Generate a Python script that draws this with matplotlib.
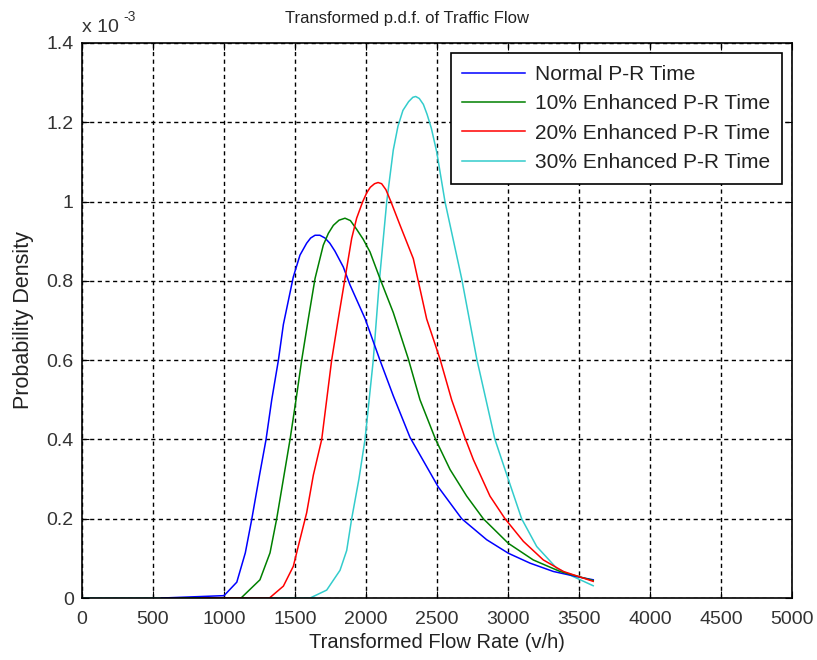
import numpy as np
import matplotlib
matplotlib.use('Agg')
import matplotlib.pyplot as plt
from matplotlib.ticker import FuncFormatter

plt.rcParams['font.family'] = ['Liberation Sans', 'DejaVu Sans']

# flow rate (v/h) and density (x 1e-3)
x_normal = [560, 1000, 1090, 1150, 1195, 1250, 1296, 1336, 1383, 1418, 1453, 1488, 1535,
            1582, 1610, 1641, 1675, 1711, 1745, 1781, 1840, 1887, 1993, 2098, 2192, 2310,
            2509, 2674, 2850, 3002, 3155, 3319, 3484, 3600]
y_normal = [0, 0.006, 0.04, 0.114, 0.198, 0.31, 0.40, 0.50, 0.60, 0.69, 0.75, 0.81, 0.865,
            0.895, 0.908, 0.915, 0.915, 0.908, 0.895, 0.875, 0.835, 0.79, 0.705, 0.60, 0.51,
            0.405, 0.28, 0.20, 0.147, 0.113, 0.088, 0.067, 0.054, 0.046]

x_10 = [690, 1120, 1253, 1324, 1371, 1418, 1465, 1507, 1547, 1594, 1641, 1699, 1735, 1770,
        1810, 1852, 1890, 1934, 1980, 2028, 2098, 2192, 2298, 2380, 2490, 2592, 2709, 2826,
        3002, 3178, 3366, 3600]
y_10 = [0, 0, 0.046, 0.114, 0.20, 0.30, 0.40, 0.50, 0.60, 0.705, 0.806, 0.89, 0.92, 0.94,
        0.953, 0.958, 0.952, 0.93, 0.905, 0.873, 0.806, 0.72, 0.603, 0.50, 0.40, 0.324,
        0.257, 0.20, 0.138, 0.096, 0.067, 0.044]

x_20 = [845, 1320, 1418, 1488, 1535, 1582, 1629, 1688, 1723, 1758, 1805, 1852, 1899, 1934,
        1977, 2005, 2030, 2060, 2085, 2110, 2140, 2175, 2240, 2333, 2427, 2521, 2603, 2697,
        2756, 2873, 2979, 3108, 3249, 3390, 3600]
y_20 = [0, 0, 0.03, 0.08, 0.148, 0.215, 0.31, 0.40, 0.50, 0.60, 0.705, 0.806, 0.907, 0.958,
        1.0, 1.022, 1.036, 1.045, 1.048, 1.045, 1.03, 1.0, 0.94, 0.856, 0.704, 0.603, 0.50,
        0.404, 0.349, 0.257, 0.20, 0.143, 0.096, 0.067, 0.042]

x_30 = [0, 1606, 1723, 1817, 1864, 1899, 1950, 1993, 2051, 2094, 2146, 2192, 2225, 2260,
        2300, 2330, 2350, 2375, 2404, 2430, 2460, 2498, 2556, 2674, 2780, 2908, 2979, 3096,
        3202, 3343, 3460, 3600]
y_30 = [0, 0, 0.02, 0.07, 0.12, 0.20, 0.30, 0.40, 0.60, 0.80, 1.0, 1.13, 1.19, 1.23,
        1.252, 1.263, 1.265, 1.26, 1.245, 1.22, 1.185, 1.125, 1.0, 0.805, 0.603, 0.40,
        0.324, 0.20, 0.13, 0.075, 0.054, 0.031]

labels = ['Normal P-R Time', '10% Enhanced P-R Time',
          '20% Enhanced P-R Time', '30% Enhanced P-R Time']
colors = ['#0000ff', '#008000', '#ff0000', '#33cccc']

fig = plt.figure(figsize=(8.17, 6.6), dpi=100)
ax = fig.add_axes([0.1004, 0.0939, 0.8690, 0.8410])

series = [(x_normal, y_normal), (x_10, y_10), (x_20, y_20), (x_30, y_30)]
for i, (xs, ys) in enumerate(series):
    # last curve sits under the others where they all lie on zero
    z = 1.9 if i == 3 else 2
    ax.plot(xs, np.array(ys) * 1e-3, color=colors[i], lw=1.1, label=labels[i], zorder=z)

ax.set_xlim(0, 5000)
ax.set_ylim(0, 1.4e-3)
ax.set_xticks(np.arange(0, 5001, 500))
ax.set_yticks(np.arange(0, 1.41e-3, 0.2e-3))
ax.yaxis.set_major_formatter(FuncFormatter(lambda v, p: '%g' % round(v * 1e3, 3)))

ax.grid(True, color='black', linestyle=(0, (3, 2.5)), lw=1.0)
ax.tick_params(direction='in', length=5, top=True, right=True, labelsize=14, colors='black')
ax.tick_params(axis='x', pad=9)
ax.tick_params(axis='y', pad=6)
for tl in ax.get_xticklabels() + ax.get_yticklabels():
    tl.set_color('#333333')
for s in ax.spines.values():
    s.set_linewidth(1.2)

fig.text(407 / 817, 1 - 18 / 660, 'Transformed p.d.f. of Traffic Flow', fontsize=12,
         ha='center', va='center', color='#222222')
ax.set_xlabel('Transformed Flow Rate (v/h)', fontsize=14.5, color='#222222', labelpad=4)
ax.set_ylabel('Probability Density', fontsize=15.5, color='#222222', labelpad=9)
ax.text(0.0, 1.012, 'x 10', transform=ax.transAxes, fontsize=14,
        ha='left', va='bottom', color='#333333')
ax.text(0.058, 1.035, '-3', transform=ax.transAxes, fontsize=10,
        ha='left', va='bottom', color='#333333')

leg = ax.legend(loc='upper right', fontsize=15, handlelength=3.0, handletextpad=0.5,
                borderpad=0.55, labelspacing=0.5, borderaxespad=0.5, fancybox=False,
                framealpha=1, edgecolor='black')
leg.get_frame().set_linewidth(1.2)
for t in leg.get_texts():
    t.set_color('#222222')

fig.savefig('out.png', dpi=100)
